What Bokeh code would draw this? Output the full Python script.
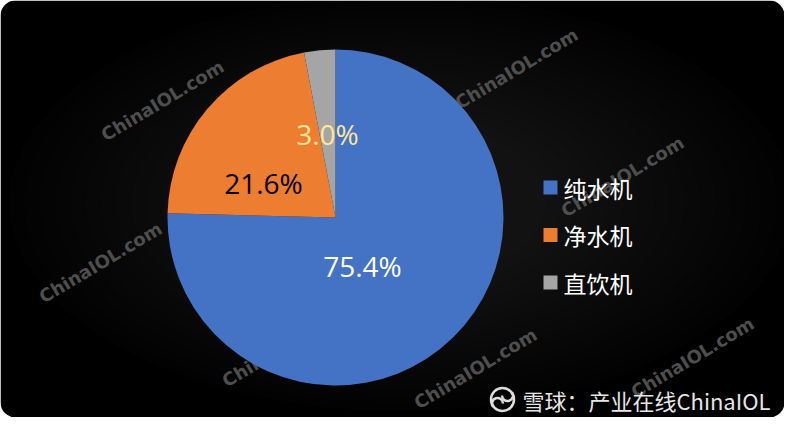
import numpy as np
from bokeh.plotting import figure
from bokeh.models import Range1d, ColumnDataSource
from bokeh.core.properties import value
from bokeh.embed import file_html
from bokeh.resources import INLINE

# ---- data ----
categories = ["纯水机", "净水机", "直饮机"]
shares = [75.4, 21.6, 3.0]
label_texts = ["75.4%", "21.6%", "3.0%"]
colors = ["#4472C4", "#ED7D31", "#A5A5A5"]
label_colors = ["#FFFFFF", "#000000", "#FFE699"]
footer_text = "雪球：产业在线ChinaIOL"
watermark_text = "ChinaIOL.com"

# ---- layout (pixel units, y measured up from the bottom) ----
W, H = 784, 417
CX, CY, R = 335, 200, 168
label_offsets = [(27, -48), (-72, 35), (-8, 84)]
legend_x, legend_y0, legend_pitch = 550, 230, 47.5
watermarks = [(162, 317), (516, 349), (622, 241), (100, 155), (283, 71), (475, 49), (692, 60)]

p = figure(width=W, height=H, x_range=Range1d(0, W), y_range=Range1d(0, H),
           output_backend="svg", toolbar_location=None, min_border=0,
           x_axis_location=None, y_axis_location=None)
p.grid.visible = False
p.outline_line_color = None
p.background_fill_color = "white"
p.border_fill_color = "white"

# background rounded black panel
p.quad(left=[0], right=[W], bottom=[0], top=[H], fill_color="#000000",
       line_color=None, border_radius=15)
# soft radial glow
n = 20
ws = np.linspace(784, 200, n)
hs = np.linspace(417, 120, n)
p.ellipse(x=[400] * n, y=[215] * n, width=ws, height=hs, fill_color="#1a1a1a",
          fill_alpha=0.06, line_color=None)

# watermarks
wx, wy = zip(*watermarks)
p.text(x=list(wx), y=list(wy), text=[watermark_text] * len(watermarks), angle=0.54,
       text_align="center", text_baseline="middle", text_font=value("DejaVu Sans"),
       text_font_style="bold", text_font_size="18px", text_color="#4e4e4e")

# pie
fr = np.array(shares) / sum(shares)
cum = np.concatenate([[0.0], np.cumsum(fr)])
start = np.pi / 2 - cum[1:] * 2 * np.pi
end = np.pi / 2 - cum[:-1] * 2 * np.pi
src = ColumnDataSource(dict(start=start, end=end, color=colors, cat=categories))
p.wedge(x=CX, y=CY, radius=R, start_angle="start", end_angle="end",
        fill_color="color", line_color=None, source=src)

# data labels
lsrc = ColumnDataSource(dict(
    x=[CX + dx for dx, dy in label_offsets],
    y=[CY + dy for dx, dy in label_offsets],
    text=label_texts, color=label_colors))
p.text(x="x", y="y", text="text", text_color="color", source=lsrc,
       text_align="center", text_baseline="middle", text_font=value("Open Sans"),
       text_font_size="28px")

# legend
ly = [legend_y0 - i * legend_pitch for i in range(len(categories))]
p.rect(x=[legend_x] * len(categories), y=ly, width=14, height=14,
       fill_color=colors, line_color=None)
p.text(x=[legend_x + 13] * len(categories), y=ly, text=categories,
       text_align="left", text_baseline="middle", text_color="#FFFFFF",
       text_font=value("Noto Sans CJK SC"), text_font_size="23px")

# footer with logo
p.circle(x=[502], y=[18], radius=11.5, fill_color=None, line_color="#DDDDDD", line_width=2.5)
p.arc(x=[497, 507], y=[14, 22], radius=5.5, start_angle=[0.0, np.pi],
      end_angle=[np.pi * 1.2, np.pi * 2.2], line_color="#DDDDDD", line_width=2.5)
p.text(x=[522], y=[18], text=[footer_text], text_align="left", text_baseline="middle",
       text_color="#E6E6E6", text_font=value("Noto Sans CJK SC"), text_font_size="22px")

open("out.html", "w").write(file_html(p, INLINE))
